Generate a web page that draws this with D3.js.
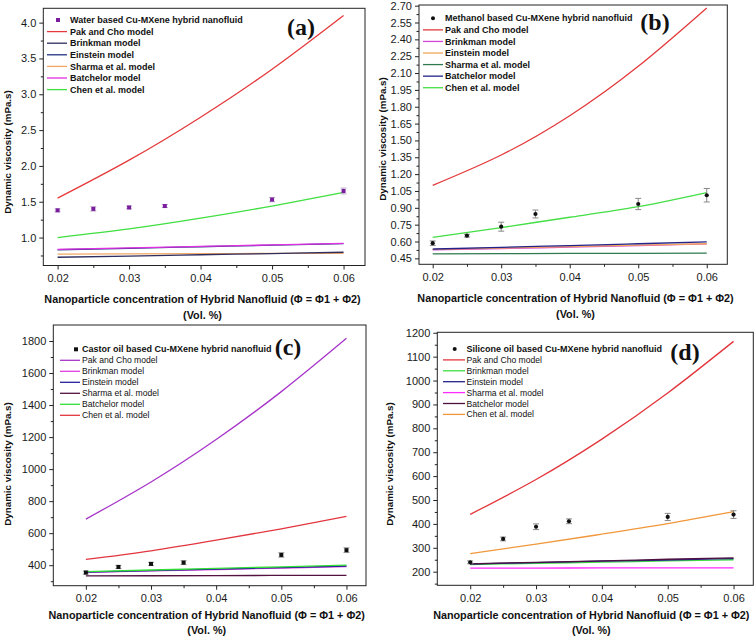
<!DOCTYPE html>
<html><head><meta charset="utf-8">
<script src="https://cdn.jsdelivr.net/npm/d3@7"></script>
<style>body{margin:0;background:#fff} svg{display:block}</style>
</head><body>
<svg id="c" width="756" height="637"></svg>
<script>
// ---------- data ----------
const xModel = [0.02, 0.03, 0.04, 0.05, 0.06];
const xData = [0.02, 0.025, 0.03, 0.035, 0.05, 0.06];
const xTicks = [0.02, 0.03, 0.04, 0.05, 0.06];
const xMinorTicks = [0.015, 0.025, 0.035, 0.045, 0.055];
const modelNames = ["Pak and Cho model", "Brinkman model", "Einstein model", "Sharma et al. model", "Batchelor model", "Chen et al. model"];

// (a) water
const aDataLabel = "Water based Cu-MXene hybrid nanofluid";
const aData = [1.38, 1.40, 1.42, 1.44, 1.53, 1.65];
const aErr = [0.02, 0.03, 0.02, 0.02, 0.03, 0.04];
const aPak = [1.55, 2.08, 2.68, 3.35, 4.10];
const aBrinkman = [0.725, 0.742, 0.760, 0.777, 0.795];
const aEinstein = [0.830, 0.850, 0.872, 0.893, 0.915];
const aSharma = [0.770, 0.773, 0.775, 0.778, 0.780];
const aBatchelor = [0.835, 0.855, 0.877, 0.898, 0.920];
const aChen = [1.00, 1.12, 1.27, 1.44, 1.63];
const aYTicks = [1.0, 1.5, 2.0, 2.5, 3.0, 3.5, 4.0];
const aYMinor = [0.75, 1.25, 1.75, 2.25, 2.75, 3.25, 3.75];

// (b) methanol
const bDataLabel = "Methanol based Cu-MXene hybrid nanofluid";
const bData = [0.585, 0.652, 0.732, 0.845, 0.934, 1.012];
const bErr = [0.02, 0.012, 0.04, 0.035, 0.05, 0.06];
const bPak = [1.10, 1.37, 1.72, 2.16, 2.68];
const bBrinkman = [0.525, 0.537, 0.550, 0.563, 0.578];
const bEinstein = [0.530, 0.542, 0.555, 0.567, 0.580];
const bSharma = [0.490, 0.492, 0.494, 0.495, 0.497];
const bBatchelor = [0.533, 0.548, 0.564, 0.580, 0.597];
const bChen = [0.637, 0.724, 0.816, 0.910, 1.035];
const bYTicks = [0.45, 0.60, 0.75, 0.90, 1.05, 1.20, 1.35, 1.50, 1.65, 1.80, 1.95, 2.10, 2.25, 2.40, 2.55, 2.70];
const bYMinor = [0.525, 0.675, 0.825, 0.975, 1.125, 1.275, 1.425, 1.575, 1.725, 1.875, 2.025, 2.175, 2.325, 2.475, 2.625];

// (c) castor oil
const cDataLabel = "Castor oil based Cu-MXene hybrid nanofluid";
const cData = [354, 389, 408, 416, 464, 494];
const cErr = [10, 10, 10, 12, 14, 15];
const cPak = [688, 920, 1185, 1484, 1817];
const cBrinkman = [355, 364, 373, 382, 392];
const cEinstein = [357, 366, 376, 385, 395];
const cSharma = [333, 334, 335, 336, 337];
const cBatchelor = [360, 370, 380, 390, 400];
const cChen = [436, 490, 556, 627, 705];
const cYTicks = [400, 600, 800, 1000, 1200, 1400, 1600, 1800];
const cYMinor = [300, 500, 700, 900, 1100, 1300, 1500, 1700];

// (d) silicone oil
const dDataLabel = "Silicone oil based Cu-MXene hybrid nanofluid";
const dData = [239, 337, 388, 411, 429, 439];
const dErr = [6, 8, 12, 10, 15, 16];
const dPak = [440, 586, 755, 948, 1164];
const dBrinkman = [230, 235, 240, 245, 250];
const dEinstein = [232, 238, 244, 249, 255];
const dSharma = [215, 215, 216, 216, 216];
const dBatchelor = [233, 239, 245, 252, 258];
const dChen = [276, 315, 357, 401, 451];
const dYTicks = [200, 300, 400, 500, 600, 700, 800, 900, 1000, 1100, 1200];
const dYMinor = [150, 250, 350, 450, 550, 650, 750, 850, 950, 1050, 1150];

// ---------- drawing ----------
const svg = d3.select("#c");
const SANS = "'Liberation Sans', Arial, sans-serif";

const panels = [
  { tag: "(a)", label: aDataLabel, data: aData, err: aErr,
    models: [aPak, aBrinkman, aEinstein, aSharma, aBatchelor, aChen],
    colors: ["#e43a3c", "#2e2e60", "#233585", "#f2a764", "#e22fe2", "#3fdf40"],
    marker: "square", markerColor: "#7a1e9e", errColor: "#b9a9c9",
    yTicks: aYTicks, yMinor: aYMinor, fmt: d3.format(".1f"),
    box: { x0: 43.3, x1: 365, y0: 8.3, y1: 265.5 }, xDom: [0.018, 0.063], yDom: [0.61, 4.2],
    leg: { y: 20, dy: 11.6, l0: 47, l1: 67, tx: 70, mx: 58, allBold: true },
    tagPos: [301, 27], xt: [202.5, 299.5], yt: [8, 152] },
  { tag: "(b)", label: bDataLabel, data: bData, err: bErr,
    models: [bPak, bBrinkman, bEinstein, bSharma, bBatchelor, bChen],
    colors: ["#e33a3c", "#d544d6", "#f2a65a", "#2f7a4e", "#23238a", "#43df44"],
    marker: "circle", markerColor: "#111", errColor: "#888",
    yTicks: bYTicks, yMinor: bYMinor, fmt: d3.format(".2f"),
    box: { x0: 419, x1: 727.3, y0: 5, y1: 264.3 }, xDom: [0.018, 0.063], yDom: [0.397, 2.706],
    leg: { y: 18.3, dy: 11.57, l0: 423, l1: 443, tx: 445, mx: 433, allBold: true },
    tagPos: [655, 22], xt: [575.5, 298.3], yt: [383, 139] },
  { tag: "(c)", label: cDataLabel, data: cData, err: cErr,
    models: [cPak, cBrinkman, cEinstein, cSharma, cBatchelor, cChen],
    colors: ["#a735c9", "#e23fe0", "#22229a", "#53123f", "#33df36", "#e2363f"],
    marker: "square", markerColor: "#111", errColor: "#999",
    yTicks: cYTicks, yMinor: cYMinor, fmt: d3.format("d"),
    box: { x0: 53.3, x1: 366, y0: 325, y1: 585.7 }, xDom: [0.015, 0.063], yDom: [272, 1900],
    leg: { y: 349.3, dy: 11, l0: 60, l1: 80, tx: 82, mx: 76, allBold: false },
    tagPos: [288, 347], xt: [206.7, 615], yt: [8, 464] },
  { tag: "(d)", label: dDataLabel, data: dData, err: dErr,
    models: [dPak, dBrinkman, dEinstein, dSharma, dBatchelor, dChen],
    colors: ["#e3353c", "#3fdf44", "#23238e", "#ff2bff", "#4e1140", "#f1973a"],
    marker: "circle", markerColor: "#111", errColor: "#888",
    yTicks: dYTicks, yMinor: dYMinor, fmt: d3.format("d"),
    box: { x0: 437.3, x1: 753.3, y0: 332.3, y1: 585.3 }, xDom: [0.015, 0.063], yDom: [143, 1202],
    leg: { y: 349, dy: 10.9, l0: 443, l1: 465, tx: 466.5, mx: 454.7, allBold: false },
    tagPos: [685, 352], xt: [591.3, 615], yt: [389.7, 464] }
];

const drawOrder = [3, 1, 2, 4, 5, 0];

panels.forEach((p, pi) => {
  const b = p.box;
  const x = d3.scaleLinear().domain(p.xDom).range([b.x0, b.x1]);
  const y = d3.scaleLinear().domain(p.yDom).range([b.y1, b.y0]);
  const g = svg.append("g");
  const clipId = "clip" + pi;
  g.append("clipPath").attr("id", clipId).append("rect")
    .attr("x", b.x0).attr("y", b.y0).attr("width", b.x1 - b.x0).attr("height", b.y1 - b.y0);

  // axes
  const xAxis = d3.axisBottom(x).tickValues(xTicks).tickFormat(d3.format(".2f")).tickSize(4).tickPadding(5);
  const xMin = d3.axisBottom(x).tickValues(xMinorTicks.filter(v => v > p.xDom[0] + 1e-9 && v < p.xDom[1])).tickFormat("").tickSize(2.5);
  const yAxis = d3.axisLeft(y).tickValues(p.yTicks).tickFormat(p.fmt).tickSize(4).tickPadding(3);
  const yMin = d3.axisLeft(y).tickValues(p.yMinor.filter(v => v > p.yDom[0] && v < p.yDom[1])).tickFormat("").tickSize(2.5);
  [[xAxis, "b"], [xMin, "b"], [yAxis, "l"], [yMin, "l"]].forEach(([ax, side]) => {
    const ag = g.append("g")
      .attr("transform", side === "b" ? `translate(0,${b.y1})` : `translate(${b.x0},0)`)
      .call(ax);
    ag.select(".domain").remove();
    ag.selectAll("line").attr("stroke", "#222").attr("stroke-width", 1);
    ag.selectAll("text").attr("font-family", SANS).attr("font-size", 11).attr("fill", "#1a1a1a");
  });

  // model lines
  const line = d3.line().x((d, i) => x(xModel[i])).y(d => y(d)).curve(d3.curveNatural);
  const lg = g.append("g").attr("clip-path", `url(#${clipId})`);
  drawOrder.forEach(k => {
    lg.append("path").datum(p.models[k]).attr("d", line)
      .attr("fill", "none").attr("stroke", p.colors[k]).attr("stroke-width", 1.3);
  });

  // error bars + markers
  const eg = g.append("g");
  p.data.forEach((v, i) => {
    const cx = x(xData[i]);
    const yt = y(v + p.err[i]), yb = y(v - p.err[i]);
    eg.append("line").attr("x1", cx).attr("x2", cx).attr("y1", yt).attr("y2", yb).attr("stroke", p.errColor).attr("stroke-width", 1);
    [yt, yb].forEach(yy => eg.append("line").attr("x1", cx - 3).attr("x2", cx + 3).attr("y1", yy).attr("y2", yy).attr("stroke", p.errColor).attr("stroke-width", 1));
    if (p.marker === "square") {
      eg.append("rect").attr("x", cx - 2).attr("y", y(v) - 2).attr("width", 4).attr("height", 4).attr("fill", p.markerColor);
    } else {
      eg.append("circle").attr("cx", cx).attr("cy", y(v)).attr("r", 2.1).attr("fill", p.markerColor);
    }
  });

  // frame
  g.append("rect").attr("x", b.x0).attr("y", b.y0).attr("width", b.x1 - b.x0).attr("height", b.y1 - b.y0)
    .attr("fill", "none").attr("stroke", "#222").attr("stroke-width", 1);

  // legend
  const L = p.leg;
  const legG = g.append("g");
  if (p.marker === "square") {
    legG.append("rect").attr("x", L.mx - 2).attr("y", L.y - 2).attr("width", 4).attr("height", 4).attr("fill", p.markerColor);
  } else {
    legG.append("circle").attr("cx", L.mx).attr("cy", L.y).attr("r", 2).attr("fill", p.markerColor);
  }
  legG.append("text").attr("x", L.tx).attr("y", L.y).attr("dy", "0.35em")
    .attr("font-family", SANS).attr("font-size", 9).attr("font-weight", "bold").attr("fill", "#111").text(p.label);
  modelNames.forEach((name, k) => {
    const yy = L.y + L.dy * (k + 1);
    legG.append("line").attr("x1", L.l0).attr("x2", L.l1).attr("y1", yy).attr("y2", yy)
      .attr("stroke", p.colors[k]).attr("stroke-width", 1.3);
    legG.append("text").attr("x", L.tx).attr("y", yy).attr("dy", "0.35em")
      .attr("font-family", SANS).attr("font-size", L.allBold ? 9 : 8.6).attr("font-weight", L.allBold ? "bold" : "normal")
      .attr("fill", "#111").text(name);
  });

  // panel tag
  g.append("text").attr("x", p.tagPos[0]).attr("y", p.tagPos[1]).attr("dy", "0.35em").attr("text-anchor", "middle")
    .attr("font-family", "'Liberation Serif', 'Times New Roman', serif").attr("font-weight", "bold").attr("font-size", 24)
    .attr("fill", "#111").text(p.tag);

  // axis titles
  g.append("text").attr("x", p.xt[0]).attr("y", p.xt[1]).attr("dy", "0.35em").attr("text-anchor", "middle")
    .attr("font-family", SANS).attr("font-weight", "bold").attr("font-size", 10.8).attr("fill", "#111")
    .text("Nanoparticle concentration of Hybrid Nanofluid (\u03A6 = \u03A61 + \u03A62)");
  g.append("text").attr("x", p.xt[0]).attr("y", p.xt[1] + 15.7).attr("dy", "0.35em").attr("text-anchor", "middle")
    .attr("font-family", SANS).attr("font-weight", "bold").attr("font-size", 10.8).attr("fill", "#111")
    .text("(Vol. %)");
  g.append("text").attr("transform", `translate(${p.yt[0]},${p.yt[1]}) rotate(-90)`).attr("dy", "0.35em")
    .attr("text-anchor", "middle").attr("font-family", SANS).attr("font-weight", "bold").attr("font-size", 9.8)
    .attr("fill", "#111").text("Dynamic viscosity (mPa.s)");
});
</script>
</body></html>
